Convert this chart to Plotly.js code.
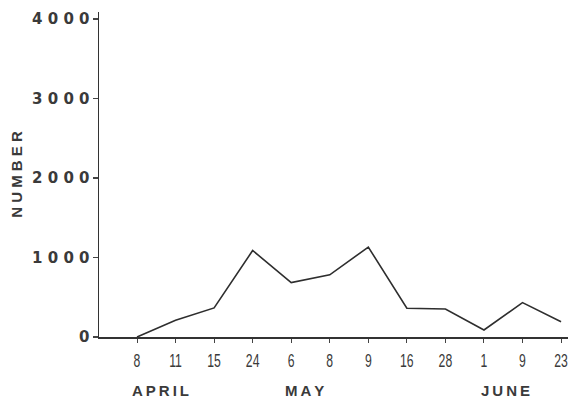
<!DOCTYPE html>
<html>
<head>
<meta charset="utf-8">
<script src="https://cdn.plot.ly/plotly-3.0.1.min.js"></script>
<style>html,body{margin:0;padding:0;background:#fff;}#chart{width:572px;height:401px;}</style>
</head>
<body>
<div id="chart"></div>
<script>
const dayLabels = ["8","11","15","24","6","8","9","16","28","1","9","23"];
const counts = [0, 210, 366, 1088, 685, 782, 1131, 362, 353, 88, 433, 193];
const yTicks = [0, 1000, 2000, 3000, 4000];
const yTickText = ["0", "1 0 0 0", "2 0 0 0", "3 0 0 0", "4 0 0 0"];
const months = ["A\u2009P\u2009R\u2009I\u2009L", "M\u2009A\u2009Y", "J\u2009U\u2009N\u2009E"];
const monthPos = [0.6, 4.35, 9.55];

const idx = dayLabels.map((_, i) => i);
const ink = "#3a3a3a";

const trace = {
  x: idx, y: counts, type: "scatter", mode: "lines",
  line: {color: "#2e2e2e", width: 1.6}, hoverinfo: "skip"
};

const annotations = months.map((m, i) => ({
  x: monthPos[i], xref: "x", y: 0, yref: "paper", yanchor: "middle", yshift: -53,
  text: m, showarrow: false,
  font: {family: "Liberation Sans, Arial, sans-serif", size: 15, color: ink, weight: "bold"}
}));

const layout = {
  width: 572, height: 401,
  margin: {l: 99, r: 4, t: 12, b: 64},
  paper_bgcolor: "#ffffff", plot_bgcolor: "#ffffff",
  showlegend: false,
  xaxis: {
    range: [-0.986, 11.18], tickmode: "array", tickvals: idx, ticktext: dayLabels,
    showgrid: false, zeroline: false, showline: true, linecolor: "#333", linewidth: 1.5,
    ticks: "outside", ticklen: 4, tickwidth: 1, tickcolor: "#444",
    ticklabeloverflow: "allow", ticklabelstandoff: 3,
    tickfont: {family: "Liberation Sans, Arial, sans-serif", size: 18, color: ink},
    fixedrange: true
  },
  yaxis: {
    range: [0, 4088], tickmode: "array", tickvals: yTicks, ticktext: yTickText,
    showgrid: false, zeroline: false, showline: true, linecolor: "#333", linewidth: 1.5,
    ticks: "outside", ticklen: 5, tickwidth: 1.2, tickcolor: "#444",
    tickfont: {family: "DejaVu Sans, sans-serif", size: 15, color: ink, weight: "bold"},
    title: {text: "N U M B E R", standoff: 6,
      font: {family: "Liberation Sans, Arial, sans-serif", size: 15, color: ink, weight: "bold"}},
    fixedrange: true
  },
  annotations: annotations
};

Plotly.newPlot("chart", [trace], layout, {displayModeBar: false, staticPlot: true}).then(gd => {
  // condense the day labels like the narrow typeface of the original
  gd.querySelectorAll(".xtick text").forEach(t => {
    const w = t.getComputedTextLength();
    t.setAttribute("textLength", (w * 0.68).toFixed(1));
    t.setAttribute("lengthAdjust", "spacingAndGlyphs");
  });
});
</script>
</body>
</html>
